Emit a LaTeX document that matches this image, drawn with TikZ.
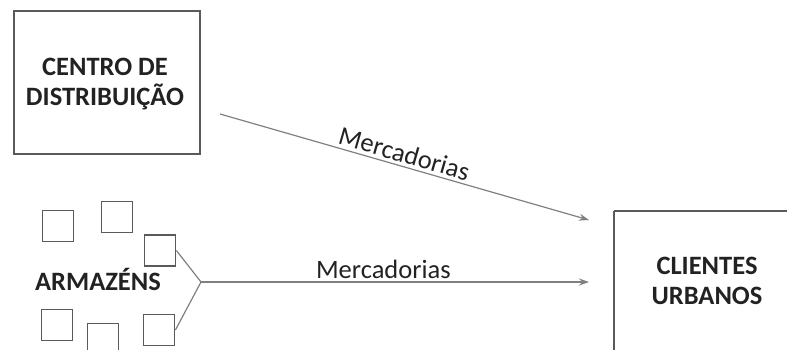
\documentclass[tikz,border=0pt]{standalone}
\usepackage{fontspec}
\setmainfont{Carlito}
\usetikzlibrary{arrows.meta}
\definecolor{boxline}{HTML}{5A5A5A}
\definecolor{flowline}{HTML}{808080}
\definecolor{txt}{HTML}{222222}
\begin{document}
\begin{tikzpicture}[x=1pt,y=-1pt,
  bigbox/.style={draw=boxline,line width=2.2pt,fill=white},
  store/.style={draw=boxline,line width=1.8pt,minimum size=31pt,inner sep=0pt},
  title/.style={font=\fontsize{26.5}{29.5}\selectfont\bfseries,text=txt,align=center},
  flowlabel/.style={font=\fontsize{26.5}{30}\selectfont,text=txt},
  flow/.style={draw=flowline,line width=1.2pt,-{Stealth[length=10pt,width=7pt]},color=flowline},
  fork/.style={draw=flowline,line width=1.2pt}]
\useasboundingbox (0,0) rectangle (787,349);
% distribution centre
\draw[bigbox] (14,11) rectangle (200,154);
\node[title] (cd) at (105,84) {CENTRO DE\\DISTRIBUIÇÃO};
% urban customers (box runs past the page edge)
\draw[bigbox] (614,211) -- (614,360) (614,211) -- (800,211);
\node[title] (cu) at (707,281) {CLIENTES\\URBANOS};
% warehouses
\node[title] (arm) at (98,279) {ARMAZÉNS};
\node[store] (s1) at (58,226) {};
\node[store] (s2) at (117,217) {};
\node[store] (s3) at (160,250.5) {};
\node[store] (s4) at (57,325) {};
\node[store] (s5) at (103,339) {};
\node[store] (s6) at (159,330) {};
\coordinate (join) at (201,282);
\coordinate (tipa) at (589,220);
\coordinate (tipb) at (589,282);
\coordinate (starta) at (220,114);
\draw[fork] (s3.east) -- (join) -- (s6.east);
% flows of goods
\draw[flow] (starta) -- node[flowlabel,above,sloped,pos=0.49,inner sep=3pt] (la) {Mercadorias} (tipa);
\draw[flow] (join) -- node[flowlabel,above,pos=0.47,inner sep=3pt] (lb) {Mercadorias} (tipb);
\end{tikzpicture}
\end{document}
